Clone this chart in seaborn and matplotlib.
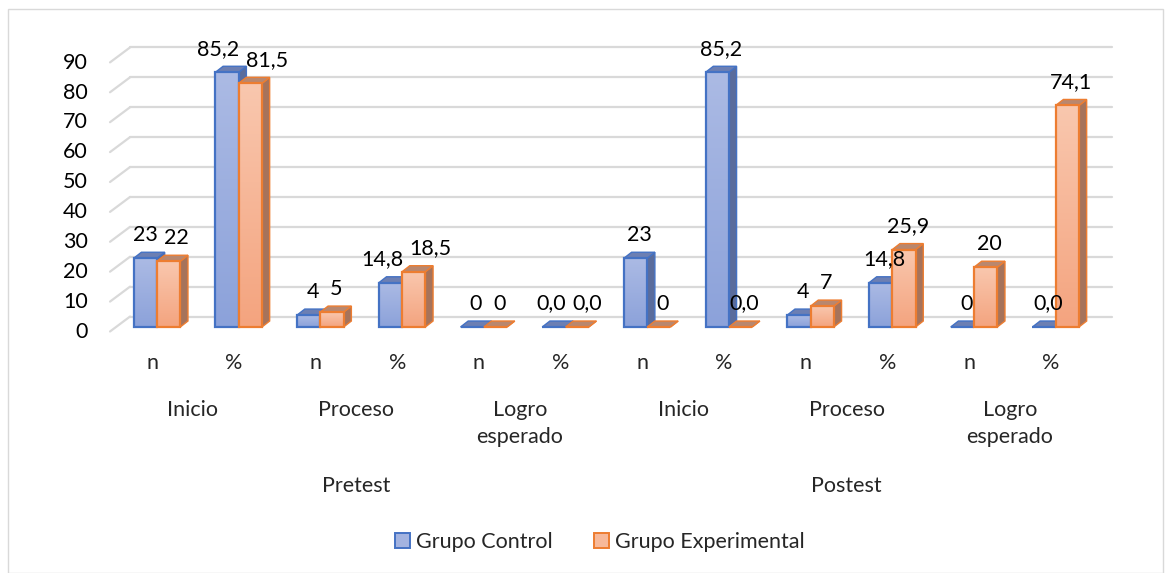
import numpy as np
import pandas as pd
import matplotlib
matplotlib.use("Agg")
import matplotlib.pyplot as plt
from matplotlib.patches import Polygon, Patch, Rectangle
from matplotlib.colors import LinearSegmentedColormap
import seaborn as sns

# data
cats = ["n", "%", "n", "%", "n", "%", "n", "%", "n", "%", "n", "%"]
niveles = ["Inicio", "Proceso", "Logro\nesperado"]
momentos = ["Pretest", "Postest"]
grupos = ["Grupo Control", "Grupo Experimental"]
control = [23, 85.2, 4, 14.8, 0, 0.0, 23, 85.2, 4, 14.8, 0, 0.0]
experimental = [22, 81.5, 5, 18.5, 0, 0.0, 0, 0.0, 7, 25.9, 20, 74.1]
yticks = [0, 10, 20, 30, 40, 50, 60, 70, 80, 90]

sns.set_theme(style="white")
plt.rcParams["font.family"] = ["Lato", "DejaVu Sans"]
FS = 15.5

df = pd.DataFrame({
    "pos": list(range(12)) * 2,
    "grupo": [grupos[0]] * 12 + [grupos[1]] * 12,
    "valor": control + experimental,
})

front = {grupos[0]: ("#ABBAE4", "#8CA2DA", "#4472C4"),
         grupos[1]: ("#F9C7AE", "#F4A47F", "#ED7D31")}
top_c = {grupos[0]: "#6C7FB3", grupos[1]: "#B9876E"}
side_c = {grupos[0]: "#5A6C9C", grupos[1]: "#A6735B"}

W, H = 1169, 573
fig = plt.figure(figsize=(W / 100, H / 100), dpi=100)
ax = fig.add_axes([0, 0, 1, 1])

sns.barplot(data=df, x="pos", y="valor", hue="grupo", order=list(range(12)),
            hue_order=grupos, width=0.57, gap=0, legend=False,
            palette=[front[g][1] for g in grupos], ax=ax, zorder=5)

# pixel mapping: x -> 157 + 81.7*x, y(top) -> 327 - 2.99*v
PX_X, PX_Y = 81.7, 2.99
x_lo, x_hi = (0 - 157) / PX_X, (W - 157) / PX_X
y_hi, y_lo = 327 / PX_Y, (327 - H) / PX_Y
ax.set_xlim(x_lo, x_hi)
ax.set_ylim(y_lo, y_hi)

# depth offsets of the pseudo-3D bars
dx, dy = 0.094, 2.0
grid_c = "#D9D9D9"

# back wall gridlines and side diagonals
for v in yticks:
    ax.plot([-0.33, 11.69], [v + 3.5, v + 3.5], color=grid_c, lw=1.6, zorder=1)
    ax.plot([-0.575, -0.33], [v - 1.5, v + 3.5], color=grid_c, lw=1.6, zorder=1)
    ax.text(-0.845, v - 1.6, str(v), ha="right", va="center", fontsize=FS, color="#000000")

bars = ax.patches[:]
z = 10
labels = {}
for i in range(12):
    for k, (p, v, g) in enumerate([(bars[i], control[i], grupos[0]),
                                   (bars[12 + i], experimental[i], grupos[1])]):
        x0 = p.get_x()
        w = p.get_width()
        h = p.get_height()
        c_top, c_bot, c_edge = front[g]
        # side face
        ax.add_patch(Polygon([[x0 + w, 0], [x0 + w + dx, dy], [x0 + w + dx, h + dy], [x0 + w, h]],
                             closed=True, facecolor=side_c[g], edgecolor=c_edge, lw=1.0, zorder=z))
        # top face
        ax.add_patch(Polygon([[x0, h], [x0 + dx, h + dy], [x0 + w + dx, h + dy], [x0 + w, h]],
                             closed=True, facecolor=top_c[g], edgecolor=c_edge, lw=1.0,
                             zorder=z + 0.1))
        # front face with vertical gradient
        p.set_zorder(z + 0.2)
        p.set_edgecolor(c_edge)
        p.set_linewidth(1.6)
        if h > 0:
            cmap = LinearSegmentedColormap.from_list("g", [c_bot, c_top])
            grad = np.linspace(0, 1, 64).reshape(-1, 1)
            im = ax.imshow(grad, extent=[x0, x0 + w, 0, h], origin="lower", cmap=cmap,
                           aspect="auto", zorder=z + 0.15, interpolation="bicubic")
            im.set_clip_path(p)
            p.set_facecolor("none")
        z += 1

        if cats[i] == "n":
            lab = f"{v:.0f}"
        else:
            lab = f"{v:.1f}".replace(".", ",")
        labels[(i, k)] = ax.text(x0 + w / 2 + dx / 2, h + dy + 2.5, lab, ha="center",
                                 va="bottom", fontsize=FS, color="#000000", zorder=50)

ax.set_xlim(x_lo, x_hi)
ax.set_ylim(y_lo, y_hi)

# push overlapping value labels of a pair apart
fig.canvas.draw()
rend = fig.canvas.get_renderer()
for i in range(12):
    a, b = labels[(i, 0)], labels[(i, 1)]
    ba, bb = a.get_window_extent(rend), b.get_window_extent(rend)
    if ba.y1 > bb.y0 and bb.y1 > ba.y0:
        overlap = ba.x1 + 6 - bb.x0
        if overlap > 0:
            s = overlap / 2 / PX_X
            xa, ya = a.get_position()
            xb, yb = b.get_position()
            a.set_position((xa - s, ya))
            b.set_position((xb + s, yb))

# category labels
for i, c in enumerate(cats):
    ax.text(i - 0.06, -12.2, c, ha="center", va="center", fontsize=FS)
for k in range(6):
    ax.text(2 * k + 0.5 - 0.06, -24.3, niveles[k % 3], ha="center", va="top",
            fontsize=FS, linespacing=1.45)
for k, m in enumerate(momentos):
    ax.text(6 * k + 2.5 - 0.06, -53.2, m, ha="center", va="center", fontsize=FS)

ax.axis("off")

handles = [Patch(facecolor="#A3B3E0", edgecolor="#4472C4", lw=1.4),
           Patch(facecolor="#F7B99A", edgecolor="#ED7D31", lw=1.4)]
fig.legend(handles, grupos, loc="center", bbox_to_anchor=(0.513, 1 - 542 / H), ncol=2,
           frameon=False, fontsize=FS, handlelength=0.7, handleheight=0.7,
           handletextpad=0.3, columnspacing=1.9)

fig.add_artist(Rectangle((8 / W, 0.0), (W - 14) / W, 1 - 9 / H, transform=fig.transFigure,
                         fill=False, edgecolor="#D9D9D9", lw=1.0))

fig.savefig("out.png", dpi=100, facecolor="white")
